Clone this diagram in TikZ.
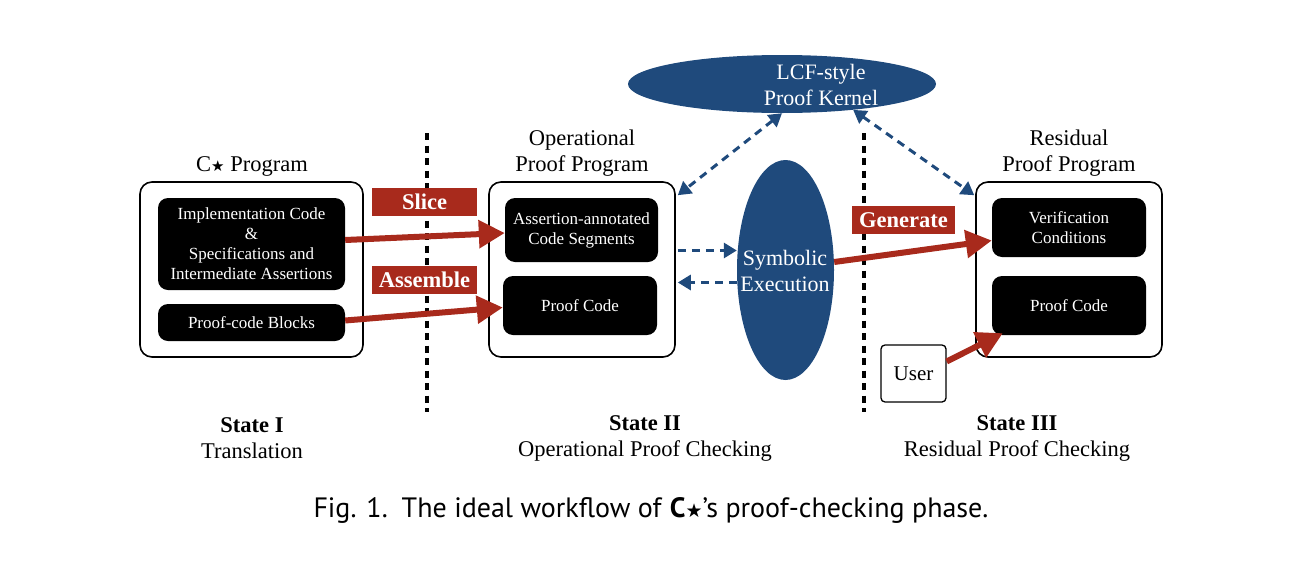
\documentclass[tikz,border=0pt]{standalone}
\usepackage{fontspec}
\setmainfont{Liberation Serif}
\newfontfamily\capfont{PT Sans}
\newfontfamily\symfont{DejaVu Sans}
\usetikzlibrary{shapes.geometric,arrows.meta,calc}
\definecolor{cred}{RGB}{168,42,28}
\definecolor{cblue}{RGB}{31,74,124}
\newcommand{\cstar}[1]{{\symfont\fontsize{#1}{#1}\selectfont ★}}
\begin{document}
\begin{tikzpicture}[x=1pt,y=-1pt,
  outer/.style={draw=black, line width=1.6pt, rounded corners=12pt, fill=white, inner sep=0pt},
  inner/.style={fill=black, rounded corners=10pt, text=white, align=center, inner sep=0pt,
    font=\fontsize{17}{20}\selectfont},
  title/.style={align=center, inner sep=0pt, font=\fontsize{22.5}{26}\selectfont},
  tag/.style={fill=cred, text=white, inner sep=0pt, minimum width=105pt, minimum height=28pt,
    font=\bfseries\fontsize{22.5}{24}\selectfont},
  blob/.style={ellipse, fill=cblue, inner sep=0pt},
  blobtext/.style={text=white, align=center, inner sep=0pt, font=\fontsize{22}{26}\selectfont},
  redarrow/.style={draw=cred, line width=6pt, -{Triangle[length=26pt,width=27pt]}},
  bluearrow/.style={draw=cblue, line width=3pt, dash pattern=on 8pt off 6pt,
    -{Triangle[length=13pt,width=15pt]}},
  bluedouble/.style={bluearrow, {Triangle[length=13pt,width=15pt]}-{Triangle[length=13pt,width=15pt]}},
  divider/.style={draw=black, line width=3.2pt, dash pattern=on 7pt off 5.5pt},
  statelabel/.style={align=center, inner sep=0pt, font=\fontsize{22.5}{26}\selectfont},
]
\useasboundingbox (0,0) rectangle (1304,576);

% dividers
\coordinate (d1t) at (427,133); \coordinate (d1b) at (427,412);
\coordinate (d2t) at (864,133); \coordinate (d2b) at (864,412);
\draw[divider] (d1t) -- (d1b);
\draw[divider] (d2t) -- (d2b);

% State I
\node[outer, minimum width=223pt, minimum height=175pt] (left) at (251.5,269.5) {};
\node[inner, minimum width=187pt, minimum height=92pt] (lb1) at (251.5,244)
  {Implementation Code\\\&\\Specifications and\\Intermediate Assertions};
\node[inner, minimum width=187pt, minimum height=37pt] (lb2) at (251.5,322.5) {Proof-code Blocks};
\node[title] (lt) at (252,166) {C\cstar{15} Program};

% State II
\node[outer, minimum width=186pt, minimum height=175pt] (mid) at (582,269.5) {};
\node[inner, minimum width=153pt, minimum height=64pt] (ma) at (581.5,230)
  {Assertion-annotated\\Code Segments};
\node[inner, minimum width=154pt, minimum height=59pt] (mb) at (580,305.5) {Proof Code};
\node[title] (mt) at (582,153) {Operational\\Proof Program};

% State III
\node[outer, minimum width=186pt, minimum height=175pt] (right) at (1069,269.5) {};
\node[inner, minimum width=154pt, minimum height=59pt] (vc) at (1069,227.5)
  {Verification\\Conditions};
\node[inner, minimum width=154pt, minimum height=59pt] (rpc) at (1069,305.5) {Proof Code};
\node[title] (rt) at (1069,153) {Residual\\Proof Program};

\node[draw=black, line width=1.3pt, rounded corners=4pt, fill=white, inner sep=0pt,
  minimum width=65pt, minimum height=57pt, font=\fontsize{21}{24}\selectfont] (user) at (913.5,373.5) {User};

% ellipses
\node[blob, minimum width=308pt, minimum height=58pt] (kernel) at (782,84) {};
\node[blobtext] (kernelt) at (821,85) {LCF-style\\Proof Kernel};
\node[blob, minimum width=97pt, minimum height=220pt] (se) at (785.5,270) {};
\node[blobtext] (set) at (785,271) {Symbolic\\Execution};

% red arrows
\draw[redarrow] ($(lb1.east)+(0,-4)$) -- ($(ma.west)+(0,3)$);
\draw[redarrow] ($(lb2.east)+(0,-2)$) -- ($(mb.west)+(0,2)$);
\draw[redarrow] ($(se.east)+(0,-8)$) -- ($(vc.west)+(0,13)$);
\draw[redarrow] ($(user.east)+(0,-12)$) -- ($(rpc.south west)+(11,-2)$);

% tags
\node[tag] (slice) at (424.5,202) {Slice};
\node[tag] (assemble) at (424.5,280) {Assemble};
\node[tag, minimum width=103pt] (generate) at (903.5,220) {Generate};

% blue arrows
\draw[bluedouble] (kernel.south) -- ($(mid.north east)+(2,14)$);
\draw[bluedouble] (kernel.-20) -- ($(right.north west)+(-1,14)$);
\coordinate (m1) at ($(mid.east)+(2,-19)$);
\coordinate (m2) at ($(mid.east)+(2,13)$);
\draw[bluearrow] (m1) -- (m1 -| se.west);
\draw[bluearrow] (m2 -| se.west) -- (m2);

% state labels
\node[statelabel] (s1) at (252,438) {\textbf{State I}\\Translation};
\node[statelabel] (s2) at (645,438) {\textbf{State II}\\Operational Proof Checking};
\node[statelabel] (s3) at (1017,438) {\textbf{State III}\\Residual Proof Checking};

% caption
\node[inner sep=0pt, font=\capfont\fontsize{28}{32}\selectfont] (cap) at (651,510)
  {Fig. 1.\enspace The ideal workflow of \textbf{C{\symfont\bfseries\fontsize{19}{19}\selectfont ★}}’s proof-checking phase.};
\end{tikzpicture}
\end{document}
